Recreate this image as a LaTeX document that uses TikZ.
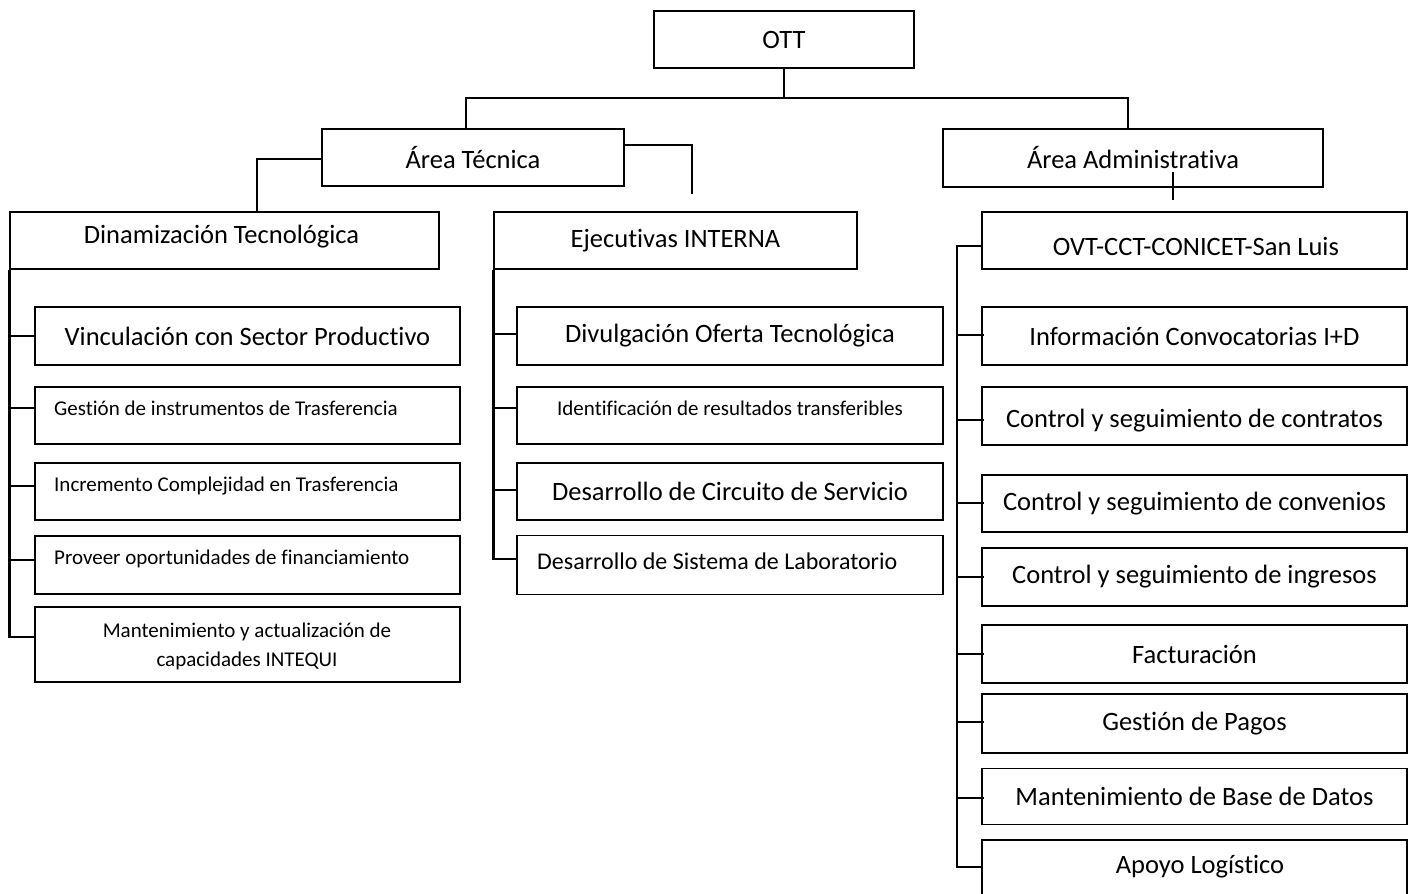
\documentclass[tikz,border=0pt]{standalone}
\usepackage{fontspec}
\setmainfont{Carlito}[Ligatures=NoCommon]
\usetikzlibrary{positioning}

\begin{document}
\begin{tikzpicture}[x=1pt,y=-1pt,
        box/.style 2 args={draw,line width=1.3pt,inner sep=0pt,
            minimum width=#1pt,minimum height=#2pt,font=\fontsize{26.5}{30}\selectfont},
        big/.style={font=\fontsize{26.5}{30}\selectfont},
        small/.style={font=\fontsize{21}{29}\selectfont,inner sep=0pt},
        mid/.style={font=\fontsize{24}{28}\selectfont,inner sep=0pt},
        conn/.style={draw,line width=2.6pt}]
        \useasboundingbox (0,0) rectangle (1414,894);
        \clip (0,0) rectangle (1414,894);
        \fill[white] (0,0) rectangle (1414,894);

        % top levels
        \node[box={260}{57}]  at (784,39.5)    (ott)  {OTT};
        \node[box={302}{57}]  at (473,157.5)   (tec)  {Área Técnica};
        \node[box={380}{58}]  at (1133,158)    (adm)  {Área Administrativa};
        \node[box={429}{57}]  at (224.5,240.5) (dina) {};
        \node[big]            at (221.5,237)          {Dinamización Tecnológica};
        \node[box={363}{57}]  at (675.5,240.5) (ejec) {Ejecutivas INTERNA};
        \node[box={425}{57}]  at (1194.5,240.5) (ovt) {};
        \node[big]            at (1196,246)           {OVT-CCT-CONICET-San Luis};

        % Dinamizacion Tecnologica
        \node[box={425}{58}]  at (247.5,336)   (vinc) {Vinculación con Sector Productivo};
        \node[box={425}{57}]  at (247.5,415.5) (gest) {};
        \node[small,anchor=west] at (54,408)          {Gestión de instrumentos de Trasferencia};
        \node[box={425}{57}]  at (247.5,491.5) (incr) {};
        \node[small,anchor=west] at (54,486)          {Incremento Complejidad en Trasferencia};
        \node[box={425}{58}]  at (247.5,565)   (prov) {};
        \node[small,anchor=west] at (54,559)          {Proveer oportunidades de financiamiento};
        \node[box={425}{75}]  at (247.5,644.5) (mant) {};
        \node[small,align=center] at (247,646)        {Mantenimiento y actualización de\\capacidades INTEQUI};

        % Ejecutivas INTERNA
        \node[box={426}{58}]  at (730,336)     (divu) {Divulgación Oferta Tecnológica};
        \node[box={426}{57}]  at (730,415.5)   (iden) {};
        \node[small]          at (730,408)            {Identificación de resultados transferibles};
        \node[box={426}{57}]  at (730,491.5)   (dcir) {Desarrollo de Circuito de Servicio};
        \node[box={426}{59}]  at (730,565)     (dsis) {};
        \node[mid,anchor=west] at (537,561)           {Desarrollo de Sistema de Laboratorio};

        % Area Administrativa
        \node[box={425}{58}]  at (1194.5,336)  (info) {Información Convocatorias I+D};
        \node[box={425}{58}]  at (1194.5,416)  (ccon) {};
        \node[big]            at (1194.5,421)         {Control y seguimiento de contratos};
        \node[box={425}{57}]  at (1194.5,503.5) (cconv) {Control y seguimiento de convenios};
        \node[box={425}{58}]  at (1194.5,577)  (cing) {Control y seguimiento de ingresos};
        \node[box={425}{58}]  at (1194.5,654)  (fact) {Facturación};
        \node[box={425}{59}]  at (1194.5,723.5) (pago) {Gestión de Pagos};
        \node[box={425}{56}]  at (1194.5,796.5) (mbd) {Mantenimiento de Base de Datos};
        \node[box={425}{110}] at (1194.5,895)  (apoyo) {};
        \node[big]            at (1200,867)           {Apoyo Logístico};

        % connectors
        \coordinate (bus)     at (784,98);
        \coordinate (tecstub) at (692,194);
        \coordinate (admstub) at (1173,200);
        \coordinate (rbus)    at (957,246);

        \draw[conn] (ott.south) -- (bus);
        \draw[conn] (tec.north -| 466,0) |- (bus) -| (adm.north -| 1128,0);
        \draw[conn] (tec.west |- 0,159) -| (dina.north -| 257,0);
        \draw[conn] (tec.east |- 0,145) -| (tecstub);
        \draw[conn] (admstub) -- ++(0,-28);

        \draw[conn] (dina.south west) |- (mant.west |- 0,637);
        \foreach \n/\y in {vinc/336,gest/408,incr/486,prov/560}
            \draw[conn] (\n.west |- 0,\y) -- (dina.south west |- 0,\y);

        \draw[conn] (ejec.south west) |- (dsis.west |- 0,559);
        \foreach \n/\y in {divu/334,iden/408,dcir/490}
            \draw[conn] (\n.west |- 0,\y) -- (ejec.south west |- 0,\y);

        \draw[conn] (ovt.west |- 0,246) -- (rbus) |- (apoyo.west |- 0,867);
        \foreach \n/\y in {info/335,ccon/420,cconv/503,cing/577,fact/654,pago/722,mbd/798}
            \draw[conn] ([xshift=3pt]\n.west |- 0,\y) -- (rbus |- 0,\y);
\end{tikzpicture}
\end{document}
